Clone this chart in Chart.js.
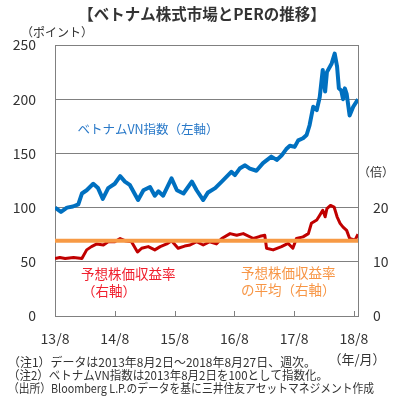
<!DOCTYPE html>
<html><head><meta charset="utf-8">
<script src="https://cdn.jsdelivr.net/npm/chart.js@4"></script>
<style>html,body{margin:0;padding:0;background:#fff;overflow:hidden}</style>
</head><body>
<canvas id="c" width="397" height="409"></canvas>
<script>
// ---- data (x = years since 2013/8) ----
const xTickLabels = ['13/8','14/8','15/8','16/8','17/8','18/8'];
const leftTicks = [0,50,100,150,200,250];
const rightTicks = [0,10,20];
const xMax = 5.07;
const vnTime = [0.00,0.10,0.20,0.30,0.39,0.45,0.53,0.64,0.72,0.80,0.89,1.00,1.09,1.17,1.25,1.39,1.48,1.59,1.67,1.73,1.81,1.95,2.04,2.15,2.29,2.37,2.48,2.56,2.68,2.79,2.95,3.01,3.09,3.18,3.26,3.37,3.48,3.62,3.71,3.79,3.87,3.93,4.01,4.07,4.15,4.21,4.26,4.32,4.38,4.43,4.48,4.52,4.55,4.63,4.68,4.72,4.75,4.79,4.82,4.85,4.88,4.93,4.99,5.07];
const vnIndex = [100,96,100,101,103,113,116,122,118,108,118,122,129,124,121,107,116,119,111,115,111,127,116,113,124,116,107,114,118,124,133,130,136,139,136,134,141,147,144,148,154,157,156,162,164,167,176,193,190,202,227,207,225,233,242,230,210,208,200,210,205,185,193,200];
const perTime = [0.00,0.08,0.17,0.31,0.45,0.53,0.61,0.70,0.81,0.89,1.00,1.09,1.17,1.28,1.38,1.45,1.56,1.67,1.76,1.87,1.95,2.06,2.17,2.26,2.37,2.48,2.59,2.70,2.79,2.93,3.04,3.15,3.32,3.43,3.51,3.54,3.65,3.79,3.90,3.98,4.04,4.15,4.24,4.29,4.38,4.43,4.48,4.52,4.55,4.61,4.67,4.72,4.77,4.82,4.88,4.93,5.02,5.07];
const perValue = [10.6,10.8,10.6,10.8,10.6,12.2,12.8,13.3,13.1,13.7,13.7,14.3,13.9,13.7,11.8,12.5,12.8,12.2,12.8,13.3,13.9,12.5,12.9,13.1,13.7,13.1,13.7,13.3,14.3,15.2,14.9,15.2,14.3,14.7,14.9,12.5,12.2,12.8,13.4,12.5,14.3,14.6,15.2,17.1,17.7,18.6,19.5,18.3,19.8,20.4,20.1,18.3,17.1,16.4,15.8,14.3,14.0,15.1];
const perAverage = 13.9;

const FONT = '"Noto Sans CJK JP", "Noto Sans", sans-serif';
const GRID = '#808080';
const TXT = '#333333';

const textPlugin = {
  id: 'texts',
  afterDraw(chart) {
    const ctx = chart.ctx;
    const xs = chart.scales.x;
    const bottom = chart.chartArea.bottom;
    ctx.save();
    // inner tick marks
    ctx.strokeStyle = GRID; ctx.lineWidth = 1;
    for (let i = 1; i < xTickLabels.length; i++) {
      const px = Math.round(xs.getPixelForValue(i)) + 0.5;
      ctx.beginPath(); ctx.moveTo(px, bottom); ctx.lineTo(px, bottom - 5); ctx.stroke();
    }
    ctx.textBaseline = 'middle';
    // title
    ctx.fillStyle = TXT;
    ctx.textAlign = 'center';
    ctx.font = 'bold 15.5px ' + FONT;
    ctx.fillText('【ベトナム株式市場とPERの推移】', 202, 14);
    ctx.font = '12px ' + FONT;
    ctx.fillText('（ポイント）', 57, 32);
    ctx.fillText('（倍）', 376, 172);
    ctx.font = '13px ' + FONT;
    ctx.fillText('（年/月）', 357, 359);
    // annotations
    ctx.fillStyle = '#2878C8';
    ctx.font = '12.5px ' + FONT;
    ctx.fillText('ベトナムVN指数（左軸）', 148, 129);
    ctx.fillStyle = '#F0202E';
    ctx.font = '13.5px ' + FONT;
    ctx.textAlign = 'left';
    ctx.fillText('予想株価収益率', 81, 274);
    ctx.textAlign = 'center';
    ctx.fillText('（右軸）', 109, 291);
    ctx.fillStyle = '#F79646';
    ctx.textAlign = 'left';
    ctx.fillText('予想株価収益率', 241, 273);
    ctx.fillText('の平均（右軸）', 241, 290);
    // footnotes
    ctx.fillStyle = TXT;
    ctx.font = '12px ' + FONT;
    ctx.fillText('（注1）データは2013年8月2日～2018年8月27日、週次。', 8, 362, 308);
    ctx.fillText('（注2）ベトナムVN指数は2013年8月2日を100として指数化。', 8, 375, 320);
    ctx.fillText('（出所）Bloomberg L.P.のデータを基に三井住友アセットマネジメント作成', 8, 388, 366);
    ctx.restore();
  }
};

new Chart(document.getElementById('c'), {
  type: 'line',
  data: {
    datasets: [
      { data: vnTime.map((t, i) => ({x: t, y: vnIndex[i]})), yAxisID: 'y',
        borderColor: '#0070C0', borderWidth: 4, pointRadius: 0, order: 0, borderJoinStyle: 'round' },
      { data: [{x: 0, y: perAverage}, {x: xMax, y: perAverage}], yAxisID: 'y1',
        borderColor: '#F79A45', borderWidth: 4, pointRadius: 0, order: 1 },
      { data: perTime.map((t, i) => ({x: t, y: perValue[i]})), yAxisID: 'y1',
        borderColor: '#C00000', borderWidth: 3, pointRadius: 0, order: 2, borderJoinStyle: 'round' }
    ]
  },
  options: {
    responsive: false, animation: false, devicePixelRatio: 1,
    layout: { padding: { top: 45, bottom: 63, left: 0, right: 0 } },
    plugins: { legend: { display: false }, tooltip: { enabled: false } },
    scales: {
      x: {
        type: 'linear', min: 0, max: xMax, position: 'bottom',
        grid: { display: false, drawTicks: false },
        border: { display: true, color: GRID },
        afterBuildTicks: s => { s.ticks = xTickLabels.map((_, i) => ({ value: i })); },
        afterFit: s => { s.height = 30; },
        ticks: { padding: 14, color: TXT, font: { family: FONT, size: 14 },
                 maxRotation: 0, autoSkip: false,
                 callback: v => xTickLabels[v] ?? '' }
      },
      y: {
        position: 'left', min: 0, max: 250,
        grid: { color: GRID, drawTicks: false },
        border: { display: true, color: GRID },
        afterBuildTicks: s => { s.ticks = leftTicks.map(v => ({ value: v })); },
        afterFit: s => { s.width = 55; },
        ticks: { padding: 19, color: TXT, font: { family: FONT, size: 14 } }
      },
      y1: {
        position: 'right', min: 0, max: 50,
        grid: { display: false, drawTicks: false },
        border: { display: true, color: GRID },
        afterBuildTicks: s => { s.ticks = rightTicks.map(v => ({ value: v })); },
        afterFit: s => { s.width = 39; },
        ticks: { padding: 15, color: TXT, font: { family: FONT, size: 14 } }
      }
    }
  },
  plugins: [textPlugin]
});
</script>
</body></html>
